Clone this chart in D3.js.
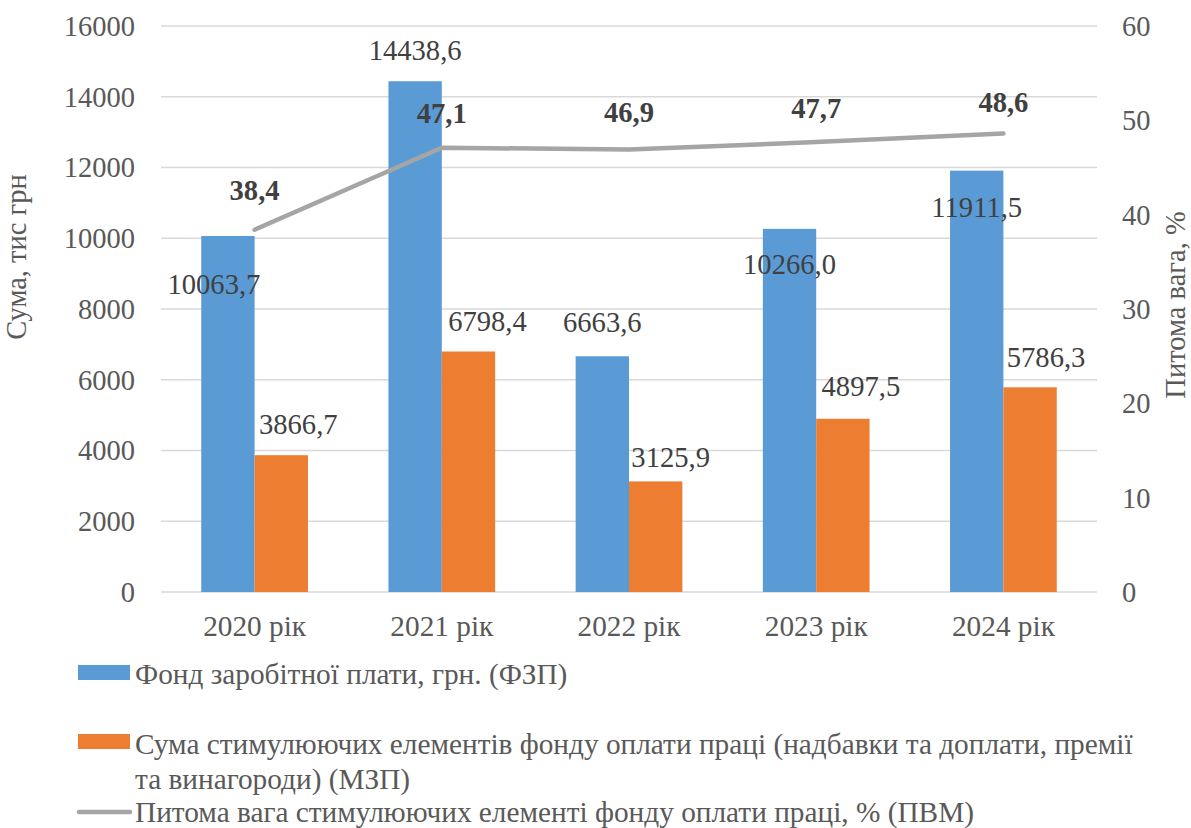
<!DOCTYPE html>
<html>
<head>
<meta charset="utf-8">
<script src="https://cdn.jsdelivr.net/npm/d3@7"></script>
<style>
  html, body { margin: 0; padding: 0; background: #fff; }
  svg { display: block; }
</style>
</head>
<body>
<svg id="chart" width="1191" height="828" font-family="Liberation Serif"></svg>
<script>
// ---- data ----
const categories = ["2020 рік", "2021 рік", "2022 рік", "2023 рік", "2024 рік"];
const fzp = [10063.7, 14438.6, 6663.6, 10266.0, 11911.5];
const mzp = [3866.7, 6798.4, 3125.9, 4897.5, 5786.3];
const pvm = [38.4, 47.1, 46.9, 47.7, 48.6];
const leftTicks = [0, 2000, 4000, 6000, 8000, 10000, 12000, 14000, 16000];
const rightTicks = [0, 10, 20, 30, 40, 50, 60];
const seriesNames = [
  "Фонд заробітної плати, грн. (ФЗП)",
  ["Сума стимулюючих елементів фонду оплати праці (надбавки та доплати, премії", "та винагороди) (МЗП)"],
  "Питома вага стимулюючих елементі фонду оплати праці, % (ПВМ)"
];
const leftTitle = "Сума, тис грн";
const rightTitle = "Питома вага, %";

// label placement tweaks (dx, dy relative to bar top / point)
const fzpLabelOff = [[-14, 48], [0, -31], [0, -34], [0, 35], [0, 36]];
const mzpLabelOff = [[17, -31], [19, -31], [15, -24], [18, -33], [16, -30]];
const pvmLabelOff = [[0, -40], [0, -35], [0, -38], [0, -34], [0, -32]];

// ---- layout ----
const FONT = "Liberation Serif";
const svg = d3.select("#chart");
const pL = 161, pR = 1097, pT = 26, pB = 592;
const colors = { blue: "#5B9BD5", orange: "#ED7D31", gray: "#A5A5A5" };
const fsTick = 28.5, fsLabel = 28.6, fsText = 29.3;

const x = d3.scaleBand().domain(categories).range([pL, pR]).paddingInner(0.43).paddingOuter(0.215);
const yL = d3.scaleLinear().domain([0, 16000]).range([pB, pT]);
const yR = d3.scaleLinear().domain([0, 60]).range([pB, pT]);
const bw = x.bandwidth() / 2;

// gridlines
svg.append("g").selectAll("line").data(leftTicks).join("line")
  .attr("x1", pL).attr("x2", pR)
  .attr("y1", d => yL(d)).attr("y2", d => yL(d))
  .attr("stroke", "#D9D9D9").attr("stroke-width", 1.5);

// left axis
const axL = svg.append("g").attr("transform", `translate(${pL - 26},0)`)
  .call(d3.axisLeft(yL).tickValues(leftTicks).tickSize(0).tickPadding(0).tickFormat(d3.format("d")));
axL.attr("font-family", FONT);
axL.select(".domain").remove();
axL.selectAll("text").attr("font-size", fsTick).attr("fill", "#595959")
  .attr("font-family", FONT).attr("dy", "0.33em");

// right axis
const axR = svg.append("g").attr("transform", `translate(${pR + 25},0)`)
  .call(d3.axisRight(yR).tickValues(rightTicks).tickSize(0).tickPadding(0).tickFormat(d3.format("d")));
axR.attr("font-family", FONT);
axR.select(".domain").remove();
axR.selectAll("text").attr("font-size", fsTick).attr("fill", "#595959")
  .attr("font-family", FONT).attr("dy", "0.33em");

// x axis labels
const axX = svg.append("g").attr("transform", `translate(0,${pB + 44})`)
  .call(d3.axisBottom(x).tickSize(0).tickPadding(0));
axX.attr("font-family", FONT);
axX.select(".domain").remove();
axX.selectAll("text").attr("font-size", fsText).attr("fill", "#595959")
  .attr("font-family", FONT).attr("dy", "0");

// bars
const fmt = v => v.toFixed(1).replace(".", ",");
svg.append("g").selectAll("rect").data(fzp).join("rect")
  .attr("x", (d, i) => x(categories[i])).attr("width", bw)
  .attr("y", d => yL(d)).attr("height", d => yL(0) - yL(d))
  .attr("fill", colors.blue);
svg.append("g").selectAll("rect").data(mzp).join("rect")
  .attr("x", (d, i) => x(categories[i]) + bw).attr("width", bw)
  .attr("y", d => yL(d)).attr("height", d => yL(0) - yL(d))
  .attr("fill", colors.orange);

// line
const lineGen = d3.line().x((d, i) => x(categories[i]) + x.bandwidth() / 2).y(d => yR(d));
svg.append("path").datum(pvm).attr("d", lineGen)
  .attr("fill", "none").attr("stroke", colors.gray).attr("stroke-width", 4.5)
  .attr("stroke-linejoin", "round").attr("stroke-linecap", "round");

// bar labels
svg.append("g").selectAll("text").data(fzp).join("text")
  .attr("x", (d, i) => x(categories[i]) + bw / 2 + fzpLabelOff[i][0])
  .attr("y", (d, i) => yL(d) + fzpLabelOff[i][1])
  .attr("dy", "0.35em").attr("text-anchor", "middle").attr("font-family", FONT)
  .attr("font-size", fsLabel).attr("fill", "#404040").text(fmt);
svg.append("g").selectAll("text").data(mzp).join("text")
  .attr("x", (d, i) => x(categories[i]) + bw * 1.5 + mzpLabelOff[i][0])
  .attr("y", (d, i) => yL(d) + mzpLabelOff[i][1])
  .attr("dy", "0.35em").attr("text-anchor", "middle").attr("font-family", FONT)
  .attr("font-size", fsLabel).attr("fill", "#404040").text(fmt);
svg.append("g").selectAll("text").data(pvm).join("text")
  .attr("x", (d, i) => x(categories[i]) + x.bandwidth() / 2 + pvmLabelOff[i][0])
  .attr("y", (d, i) => yR(d) + pvmLabelOff[i][1])
  .attr("dy", "0.35em").attr("text-anchor", "middle").attr("font-weight", "bold")
  .attr("font-family", FONT).attr("font-size", fsLabel).attr("fill", "#404040").text(fmt);

// axis titles
svg.append("text").attr("transform", "translate(16,257) rotate(-90)")
  .attr("text-anchor", "middle").attr("dy", "0.35em").attr("font-family", FONT)
  .attr("font-size", fsTick).attr("fill", "#595959").text(leftTitle);
svg.append("text").attr("transform", "translate(1175,305) rotate(-90)")
  .attr("text-anchor", "middle").attr("dy", "0.35em").attr("font-family", FONT)
  .attr("font-size", fsTick).attr("fill", "#595959").text(rightTitle);

// legend
const lg = svg.append("g").attr("font-family", FONT);
lg.append("rect").attr("x", 78).attr("y", 665).attr("width", 52).attr("height", 15).attr("fill", colors.blue);
lg.append("text").attr("x", 135).attr("y", 674).attr("dy", "0.35em").attr("font-family", FONT)
  .attr("font-size", fsText).attr("fill", "#595959").text(seriesNames[0]);
lg.append("rect").attr("x", 78).attr("y", 734).attr("width", 52).attr("height", 15).attr("fill", colors.orange);
lg.append("text").attr("x", 135).attr("y", 744).attr("dy", "0.35em").attr("font-family", FONT)
  .attr("font-size", fsText).attr("fill", "#595959").text(seriesNames[1][0]);
lg.append("text").attr("x", 135).attr("y", 779).attr("dy", "0.35em").attr("font-family", FONT)
  .attr("font-size", fsText).attr("fill", "#595959").text(seriesNames[1][1]);
lg.append("line").attr("x1", 79).attr("x2", 130).attr("y1", 812).attr("y2", 812)
  .attr("stroke", colors.gray).attr("stroke-width", 4.5).attr("stroke-linecap", "round");
lg.append("text").attr("x", 135).attr("y", 812).attr("dy", "0.35em").attr("font-family", FONT)
  .attr("font-size", fsText).attr("fill", "#595959").text(seriesNames[2]);
</script>
</body>
</html>
